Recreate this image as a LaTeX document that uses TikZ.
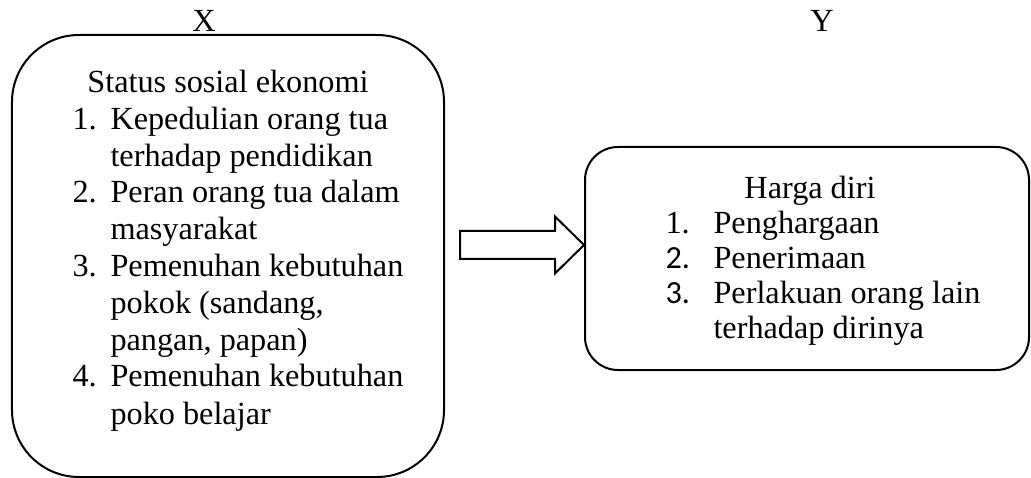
\documentclass[tikz,border=0pt]{standalone}
\usepackage{fontspec}
\setmainfont{Liberation Serif}
\newfontfamily\calibri{Carlito}
\usetikzlibrary{positioning}

\begin{document}
\begin{tikzpicture}[x=0.4pt,y=-0.4pt,
    font=\fontsize{12.9}{15}\selectfont,
    roundbox/.style={draw, line width=0.8pt, inner sep=0pt},
    txt/.style={anchor=base west, inner sep=0pt},
    num/.style={anchor=base west, inner sep=0pt},
    blockarrow/.style={draw, line width=0.8pt, line join=miter}]
    \useasboundingbox (0,0) rectangle (1031,478);

    % the two boxes
    \node[roundbox, minimum width=172.8pt, minimum height=176.8pt, rounded corners=26.8pt] (xbox) at (228,256) {};
    \node[roundbox, minimum width=177.6pt, minimum height=89.2pt, rounded corners=13.2pt] (ybox) at (807,258.5) {};

    \node[anchor=base, inner sep=0pt] (xlab) at (204,32) {X};
    \node[anchor=base, inner sep=0pt] (ylab) at (822,32) {Y};

    % variabel X
    \node[anchor=base, inner sep=0pt] (xtitle) at (228,93) {Status sosial ekonomi};
    \node[num] (x1) at (72,130) {1.};
    \node[txt] (x1a) at (110,130) {Kepedulian orang tua};
    \node[txt] (x1b) at (110,167) {terhadap pendidikan};
    \node[num] (x2) at (72,203) {2.};
    \node[txt] (x2a) at (110,203) {Peran orang tua dalam};
    \node[txt] (x2b) at (110,240) {masyarakat};
    \node[num] (x3) at (72,277) {3.};
    \node[txt] (x3a) at (110,277) {Pemenuhan kebutuhan};
    \node[txt] (x3b) at (110,314) {pokok (sandang,};
    \node[txt] (x3c) at (110,350) {pangan, papan)};
    \node[num] (x4) at (72,387) {4.};
    \node[txt] (x4a) at (110,387) {Pemenuhan kebutuhan};
    \node[txt] (x4b) at (110,424) {poko belajar};

    % variabel Y
    \node[anchor=base, inner sep=0pt] (ytitle) at (810,199) {Harga diri};
    \node[num] (y1) at (665,234) {1.};
    \node[txt] (y1a) at (713,234) {Penghargaan};
    \node[num] (y2) at (665,269) {\calibri 2.};
    \node[txt] (y2a) at (713,269) {Penerimaan};
    \node[num] (y3) at (665,304) {\calibri 3.};
    \node[txt] (y3a) at (713,304) {Perlakuan orang lain};
    \node[txt] (y3b) at (713,339) {terhadap dirinya};

    % panah X ke Y
    \coordinate (tip) at (ybox.west |- 0,245);
    \draw[blockarrow] (tip) -- ++(-29,28.5) -- ++(0,-14.5) -- ++(-95,0)
        -- ++(0,-28) -- ++(95,0) -- ++(0,-14.5) -- cycle;
\end{tikzpicture}
\end{document}
